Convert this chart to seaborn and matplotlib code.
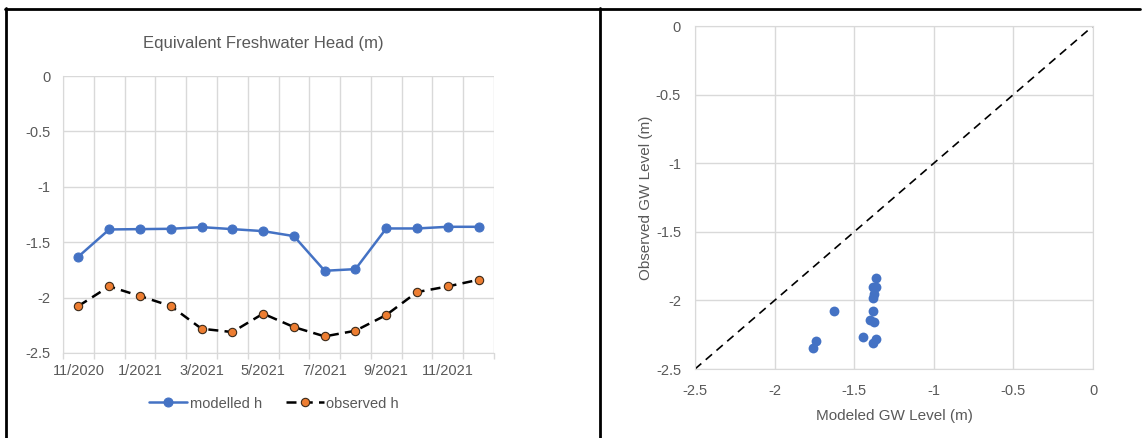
import numpy as np
import pandas as pd
import seaborn as sns
import matplotlib.pyplot as plt
from matplotlib.lines import Line2D

# month categories (one point per month)
months = ['11/2020', '12/2020', '1/2021', '2/2021', '3/2021', '4/2021', '5/2021',
          '6/2021', '7/2021', '8/2021', '9/2021', '10/2021', '11/2021', '12/2021']
modelled_h = [-1.63, -1.385, -1.382, -1.379, -1.364, -1.382, -1.40,
              -1.445, -1.758, -1.743, -1.376, -1.376, -1.361, -1.361]
observed_h = [-2.076, -1.899, -1.986, -2.076, -2.281, -2.311, -2.145,
              -2.266, -2.35, -2.299, -2.157, -1.95, -1.899, -1.839]
axis_ticks = [-2.5, -2, -1.5, -1, -0.5, 0]
axis_ticklabels = ['-2.5', '-2', '-1.5', '-1', '-0.5', '0']

df = pd.DataFrame({'month': months, 'modelled h': modelled_h, 'observed h': observed_h})

BLUE = '#4472C4'
ORANGE = '#ED7D31'
GREY_TXT = '#595959'
GRID = '#D9D9D9'

sns.set_style("whitegrid")
plt.rcParams['font.family'] = ['Liberation Sans', 'DejaVu Sans']

fig = plt.figure(figsize=(11.47, 4.38), dpi=100)
W, H = 1147, 438

def px_axes(x0, y0, x1, y1):
    return fig.add_axes([x0 / W, 1 - y1 / H, (x1 - x0) / W, (y1 - y0) / H])

# ---- left: time series ----
ax1 = px_axes(63, 76, 494, 353)
sns.lineplot(data=df, x='month', y='modelled h', sort=False, ax=ax1, color=BLUE,
             linewidth=1.8, marker='o', markersize=6.5, markeredgecolor=BLUE,
             label='modelled h')
sns.lineplot(data=df, x='month', y='observed h', sort=False, ax=ax1, color='black',
             linewidth=1.8, dashes=(4, 2.5), marker='o', markersize=6,
             markerfacecolor=ORANGE, markeredgecolor='#3a2a1a', markeredgewidth=0.8,
             label='observed h')
ax1.set_xlim(-0.5, len(months) - 0.5)
ax1.set_ylim(-2.5, 0)
ax1.set_yticks(axis_ticks)
ax1.set_yticklabels(axis_ticklabels)
ax1.set_xticks(range(0, len(months), 2))
ax1.set_xticklabels(months[::2])
ax1.set_xticks(np.arange(-0.5, len(months), 1), minor=True)
ax1.grid(False)
ax1.grid(True, which='minor', axis='x', color=GRID, linewidth=1)
ax1.grid(True, which='major', axis='y', color=GRID, linewidth=1)
ax1.tick_params(axis='x', which='major', length=0, pad=8, labelsize=10.5, labelcolor=GREY_TXT)
ax1.tick_params(axis='x', which='minor', length=4, color=GRID, width=1, direction='out', bottom=True)
ax1.tick_params(axis='y', length=0, pad=9, labelsize=10.5, labelcolor=GREY_TXT)
ax1.set_xlabel('')
ax1.set_ylabel('')
for s in ['top', 'right']:
    ax1.spines[s].set_visible(False)
for s in ['left', 'bottom']:
    ax1.spines[s].set_color(GRID)
ax1.set_title('Equivalent Freshwater Head (m)', color=GREY_TXT, fontsize=12, pad=20, x=0.465)
ax1.legend(loc='upper center', bbox_to_anchor=(0.49, -0.11), ncol=2, frameon=False,
           fontsize=10.5, labelcolor=GREY_TXT, handlelength=2.6, columnspacing=1.6,
           handletextpad=0.2)

# ---- right: scatter ----
ax2 = px_axes(695, 26, 1093, 369)
sns.scatterplot(x=modelled_h, y=observed_h, ax=ax2, color=BLUE, s=50, edgecolor=BLUE,
                linewidth=0, zorder=3)
ax2.plot([-2.5, 0], [-2.5, 0], color='black', linewidth=1.2, dashes=(5, 3.5), zorder=2)
ax2.set_xlim(-2.5, 0)
ax2.set_ylim(-2.5, 0)
ax2.set_xticks(axis_ticks)
ax2.set_xticklabels(axis_ticklabels)
ax2.set_yticks(axis_ticks)
ax2.set_yticklabels(axis_ticklabels)
ax2.grid(True, color=GRID, linewidth=1)
ax2.tick_params(length=0, labelsize=10.5, labelcolor=GREY_TXT)
ax2.tick_params(axis='x', pad=11)
ax2.tick_params(axis='y', pad=10)
for s in ax2.spines.values():
    s.set_color(GRID)
ax2.set_xlabel('Modeled GW Level (m)', color=GREY_TXT, fontsize=11, labelpad=8)
ax2.set_ylabel('Observed GW Level (m)', color=GREY_TXT, fontsize=11, labelpad=2)

# ---- table borders ----
def fig_line(x0, y0, x1, y1, lw=2):
    fig.add_artist(Line2D([x0 / W, x1 / W], [1 - y0 / H, 1 - y1 / H],
                          color='black', linewidth=lw, transform=fig.transFigure))

fig_line(5, 8.5, 1140, 8.5)
fig_line(6, 8, 6, H)
fig_line(600, 8, 600, H)

fig.savefig('out.png', dpi=100)
